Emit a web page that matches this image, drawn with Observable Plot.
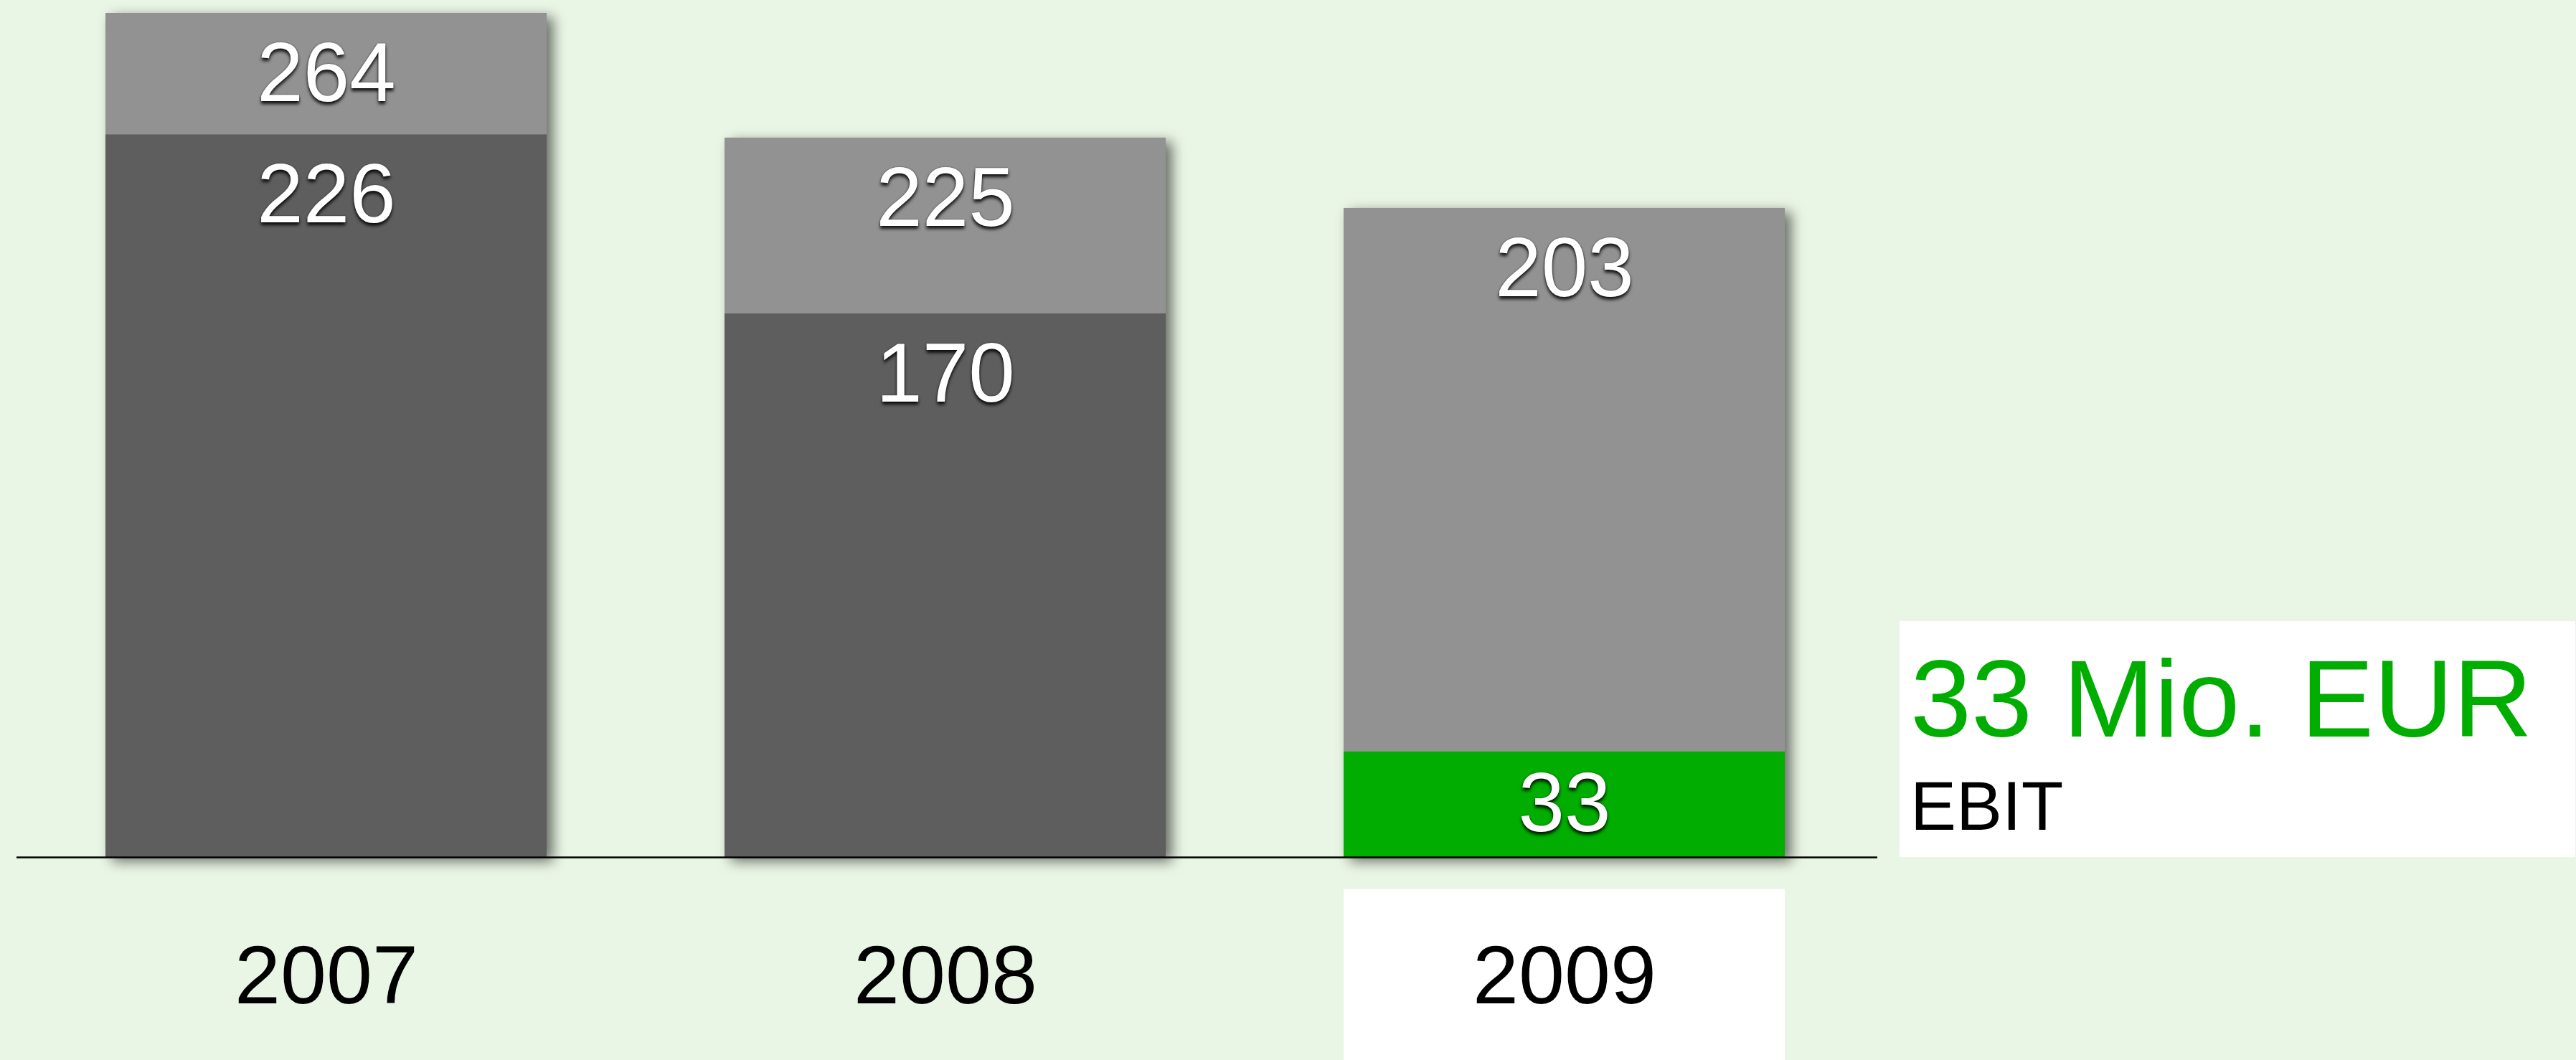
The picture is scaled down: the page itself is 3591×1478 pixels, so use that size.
<!DOCTYPE html>
<html>
<head>
<meta charset="utf-8">
<script src="https://cdn.jsdelivr.net/npm/d3@7"></script>
<script src="https://cdn.jsdelivr.net/npm/@observablehq/plot@0.6"></script>
<style>
  html, body { margin: 0; padding: 0; background: #e9f5e5; overflow: hidden; }
  #chart svg { display: block; }
  g[aria-label="bar"][fill="#929292"] { filter: drop-shadow(9px 6px 9px rgba(0,0,0,0.55)); }
  g[aria-label="text"][fill="white"] text { text-shadow: 0px 4px 4px rgba(0,0,0,0.85), 0 0 2px rgba(0,0,0,0.6); }
</style>
</head>
<body>
<div id="chart"></div>
<script>
// ---- data ----
const years = ["2007", "2008", "2009"];
const totalValues = [264, 225, 203];
const innerValues = [226, 170, 33];
const highlightYear = "2009";
const calloutTitle = "33 Mio. EUR";
const calloutLabel = "EBIT";

const data = years.map((year, i) => ({year, total: totalValues[i], inner: innerValues[i]}));
const hl = data.find(d => d.year === highlightYear);

const LIGHT = "#929292", DARK = "#5e5e5e", GREEN = "#00ad00";

const chart = Plot.plot({
  width: 3591,
  height: 1478,
  marginLeft: 146,
  marginRight: 1101,
  marginTop: 18,
  marginBottom: 283,
  style: {background: "transparent", fontFamily: "'Liberation Sans', Arial, Helvetica, sans-serif", color: "black"},
  x: {domain: years, paddingInner: 0.287, paddingOuter: 0},
  y: {domain: [0, d3.max(totalValues)], axis: null},
  marks: [
    // white highlight box behind the highlighted year label
    Plot.barY([highlightYear], {x: d => d, y1: -10, y2: -75, fill: "white"}),
    // white callout box
    Plot.barY([hl], {x: "year", y1: 0, y2: 73.8, fill: "white", insetLeft: 775, insetRight: -1102}),
    // total bars
    Plot.barY(data, {x: "year", y: "total", fill: LIGHT}),
    // inner bars
    Plot.barY(data, {x: "year", y: "inner", fill: d => d.year === highlightYear ? GREEN : DARK}),
    // baseline
    Plot.ruleY([0], {stroke: "black", strokeWidth: 2.5, insetLeft: -123, insetRight: -127}),
    // value labels
    Plot.text(data, {x: "year", y: "total", text: d => String(d.total), fill: "white", fontSize: 116, lineAnchor: "middle", dy: 85}),
    Plot.text(data.filter(d => d.year !== highlightYear), {x: "year", y: "inner", text: d => String(d.inner), fill: "white", fontSize: 116, lineAnchor: "middle", dy: 85}),
    Plot.text([hl], {x: "year", y: d => d.inner / 2, text: d => String(d.inner), fill: "white", fontSize: 116, lineAnchor: "middle"}),
    // callout texts
    Plot.text([hl], {x: "year", y: "inner", text: () => calloutTitle, fill: GREEN, fontSize: 153, textAnchor: "start", lineAnchor: "bottom", dx: 482, dy: -21}),
    Plot.text([hl], {x: "year", y: "inner", text: () => calloutLabel, fill: "black", fontSize: 96, textAnchor: "start", lineAnchor: "bottom", dx: 482, dy: 109}),
    // year axis
    Plot.axisX({tickSize: 0, tickPadding: 122, fontSize: 115, label: null, fill: "black"})
  ]
});
document.getElementById("chart").appendChild(chart);
</script>
</body>
</html>
